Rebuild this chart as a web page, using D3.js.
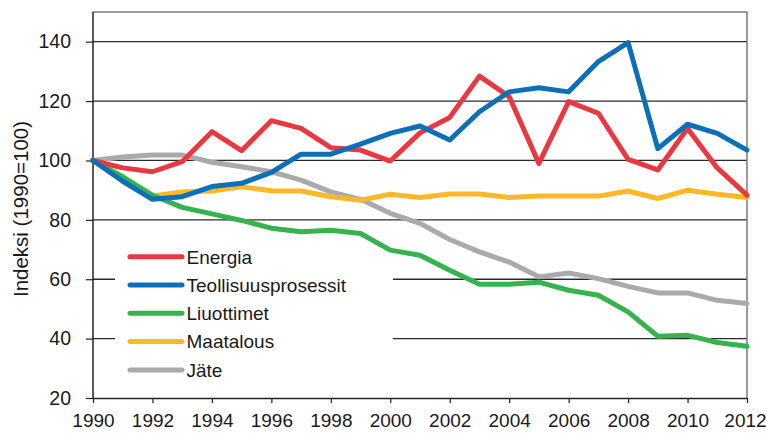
<!DOCTYPE html>
<html>
<head>
<meta charset="utf-8">
<script src="https://cdn.jsdelivr.net/npm/d3@7"></script>
<style>
  body { margin: 0; background: #fff; }
  svg { display: block; font-family: "Liberation Sans", Arial, sans-serif; }
</style>
</head>
<body>
<svg id="chart" width="767" height="433"></svg>
<script>
// data
var years = d3.range(1990, 2013);
var energia = [100, 97.5, 96.2, 99.6, 109.7, 103.3, 113.4, 110.8, 104.3, 103.5, 99.8, 109.3,
               114.5, 128.4, 121.5, 99, 119.8, 115.9, 100.4, 96.8, 110.8, 97.5, 88.3];
var teollisuus = [100, 93, 86.9, 87.8, 91.2, 92.3, 96, 102.1, 102.1, 105.5, 109.1, 111.6,
                  106.9, 116.4, 123.1, 124.5, 123.1, 133.3, 139.7, 104, 112.2, 109.1, 103.5];
var liuottimet = [100, 94.5, 88.3, 84.2, 82, 79.8, 77.2, 76, 76.5, 75.4, 69.8, 68.1,
                  63, 58.3, 58.3, 59, 56.3, 54.6, 49, 40.8, 41.1, 38.7, 37.4];
var maatalous = [100, 94, 88, 89.4, 89.7, 91.1, 89.8, 89.7, 87.8, 86.6, 88.6, 87.5,
                 88.7, 88.7, 87.5, 88, 88, 88, 89.7, 87.2, 90, 88.6, 87.5];
var jate = [100, 101.2, 101.8, 101.8, 99.4, 97.9, 96.2, 93.4, 89.4, 86.9, 82.2, 78.8,
            73.4, 69.2, 65.8, 60.8, 62.1, 60.2, 57.6, 55.4, 55.4, 52.9, 51.8];

var seriesNames = ["Energia", "Teollisuusprosessit", "Liuottimet", "Maatalous", "Jäte"];
var seriesValues = [energia, teollisuus, liuottimet, maatalous, jate];
var seriesColors = ["#e9383f", "#0c6fb8", "#36b34e", "#fbb92a", "#aaaaaa"];

var yTicks = [20, 40, 60, 80, 100, 120, 140];
var xTicks = d3.range(1990, 2013, 2);

var svg = d3.select("#chart");
// plot box (window.top is taken, so own names)
var plotLeft = 93, plotRight = 747, plotTop = 12, plotBottom = 398;

var x = d3.scaleLinear().domain([1990, 2012]).range([plotLeft, plotRight]);
var y = d3.scaleLinear().domain([20, 150]).range([plotBottom, plotTop]);

// gridlines
svg.append("g").selectAll("line")
    .data(yTicks.filter(function(d) { return d > 20; }))
    .enter().append("line")
    .attr("x1", plotLeft).attr("x2", plotRight)
    .attr("y1", function(d) { return y(d); })
    .attr("y2", function(d) { return y(d); })
    .attr("stroke", "#2a2a2a")
    .attr("stroke-width", 1.3);

// frame top / right
svg.append("line").attr("x1", plotLeft).attr("x2", plotRight).attr("y1", plotTop).attr("y2", plotTop)
    .attr("stroke", "#7a7a7a").attr("stroke-width", 1.5);
svg.append("line").attr("x1", plotRight).attr("x2", plotRight).attr("y1", plotTop).attr("y2", plotBottom)
    .attr("stroke", "#7a7a7a").attr("stroke-width", 1.5);

// legend background hides gridlines
var legendX = 130, legendY = 256.7, legendStep = 28.3;
svg.append("rect")
    .attr("x", 115).attr("y", 240)
    .attr("width", 278).attr("height", 145)
    .attr("fill", "#fff");

// axes
var yAxis = d3.axisLeft(y).tickValues(yTicks).tickSize(7).tickSizeOuter(0).tickPadding(15);
var gy = svg.append("g").attr("transform", "translate(" + plotLeft + ",0)").call(yAxis);
gy.select(".domain").attr("stroke", "#222").attr("stroke-width", 1.5)
    .attr("d", "M0," + plotTop + "V" + plotBottom);
gy.selectAll(".tick line").attr("stroke", "#222").attr("stroke-width", 1.2);
gy.selectAll(".tick text").attr("font-size", 19.5).attr("fill", "#1a1a1a")
    .attr("font-family", "Liberation Sans, Arial, sans-serif");

var xAxis = d3.axisBottom(x).tickValues(xTicks).tickFormat(d3.format("d"))
    .tickSize(5).tickSizeOuter(0).tickPadding(11);
var gx = svg.append("g").attr("transform", "translate(0," + plotBottom + ")").call(xAxis);
gx.select(".domain").attr("stroke", "#222").attr("stroke-width", 1.5);
gx.selectAll(".tick line").attr("stroke", "#222").attr("stroke-width", 1.2);
gx.selectAll(".tick text").attr("font-size", 19).attr("fill", "#1a1a1a")
    .attr("font-family", "Liberation Sans, Arial, sans-serif");
// last year label sits against the right edge of the page
gx.selectAll(".tick text").filter(function(d) { return d === 2012; }).attr("dx", -2);

// y title
svg.append("text")
    .attr("transform", "translate(28,209) rotate(-90)")
    .attr("text-anchor", "middle")
    .attr("font-size", 20.5)
    .attr("fill", "#1a1a1a")
    .text("Indeksi (1990=100)");

// series lines
var line = d3.line()
    .x(function(d, i) { return x(years[i]); })
    .y(function(d) { return y(d); });

// grey first, the others on top of it
var order = [4, 3, 2, 0, 1];
svg.append("g").selectAll("path")
    .data(order)
    .enter().append("path")
    .attr("d", function(k) { return line(seriesValues[k]); })
    .attr("fill", "none")
    .attr("stroke", function(k) { return seriesColors[k]; })
    .attr("stroke-width", 5)
    .attr("stroke-linejoin", "round")
    .attr("stroke-linecap", "round");

// legend
var leg = svg.append("g").selectAll("g")
    .data(seriesNames)
    .enter().append("g")
    .attr("transform", function(d, i) { return "translate(" + legendX + "," + (legendY + i * legendStep) + ")"; });
leg.append("line")
    .attr("x1", 0).attr("x2", 52)
    .attr("stroke", function(d, i) { return seriesColors[i]; })
    .attr("stroke-width", 5)
    .attr("stroke-linecap", "round");
leg.append("text")
    .attr("x", 56.5)
    .attr("dy", "0.36em")
    .attr("font-size", 19)
    .attr("fill", "#1a1a1a")
    .text(function(d) { return d; });
</script>
</body>
</html>
